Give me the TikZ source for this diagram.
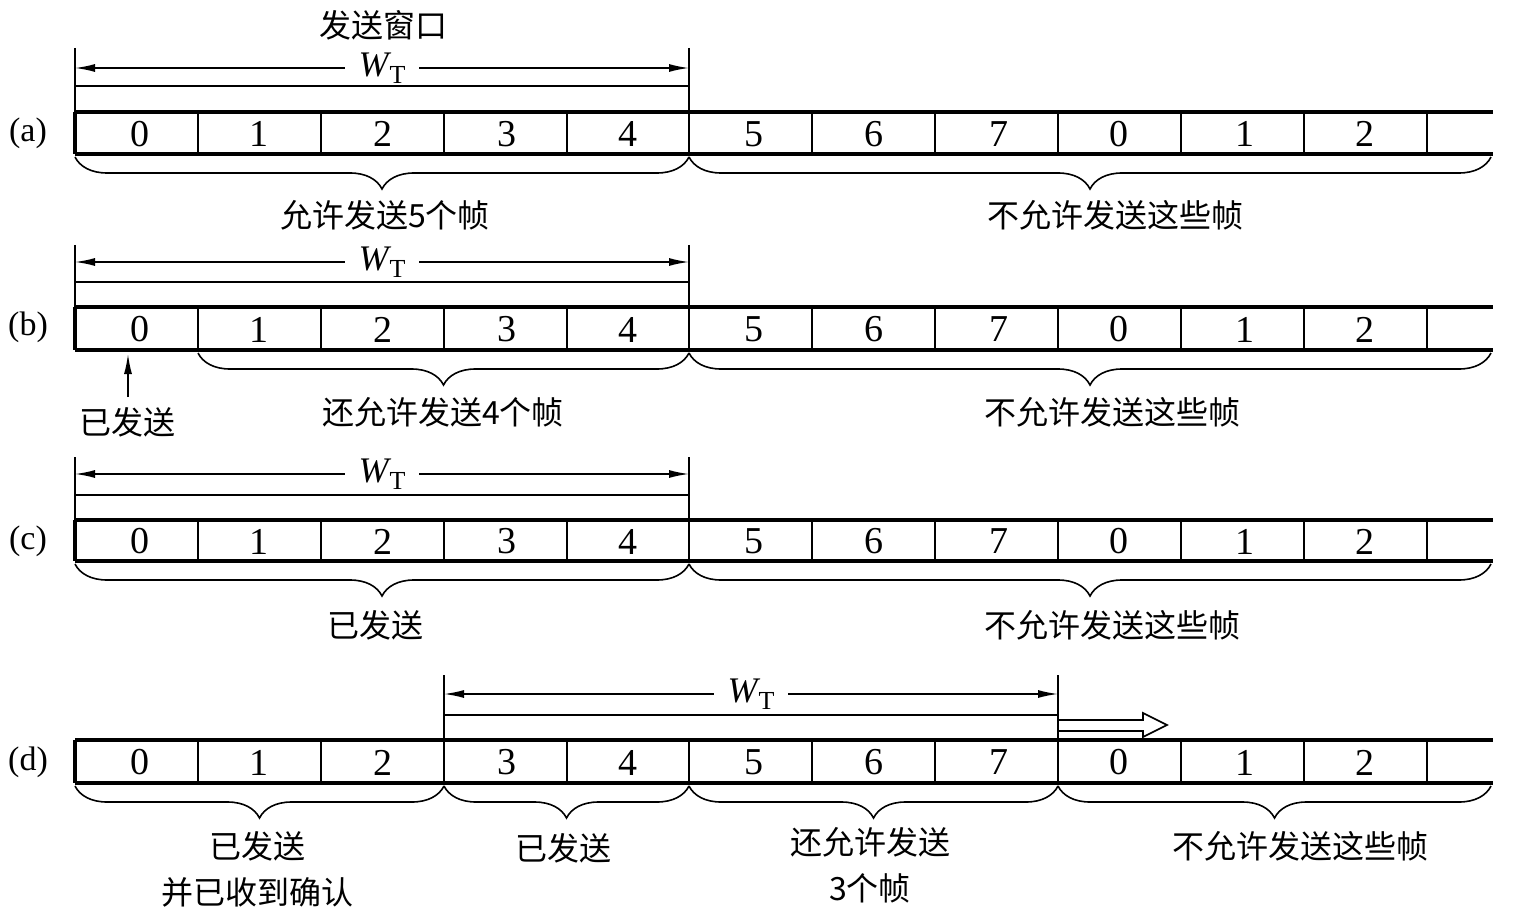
\documentclass[tikz,border=0pt]{standalone}
\usepackage{fontspec}
\setmainfont{Liberation Serif}
\newfontfamily\cjk{Noto Sans CJK SC}
\usetikzlibrary{arrows.meta,decorations.pathreplacing}
\tikzset{
  stripline/.style={line width=1.6pt},
  divider/.style={line width=0.7pt},
  winline/.style={line width=1.1pt},
  thinline/.style={line width=0.8pt},
  num/.style={font=\fontsize{19}{19}\selectfont, inner sep=0pt},
  lbl/.style={font=\cjk\fontsize{16}{20}\selectfont, align=center, inner sep=0pt},
  rowlbl/.style={font=\fontsize{17}{17}\selectfont, inner sep=0pt},
  wtlbl/.style={font=\fontsize{18}{18}\selectfont, fill=white, inner xsep=7pt, inner ysep=1pt},
  dimarrow/.style={line width=0.8pt, {Latex[length=10pt,width=4pt]}-{Latex[length=10pt,width=4pt]}},
  brc/.style={decorate, decoration={brace, mirror, amplitude=16pt}, line width=0.8pt},
  hollow/.style={line width=0.8pt, line join=miter},
}
\newcommand\WTtext{{\itshape W}\kern0.5pt\raisebox{-0.4ex}{\fontsize{13}{13}\selectfont T}}
\begin{document}
\begin{tikzpicture}[x=0.5pt,y=-0.5pt]
\useasboundingbox (0,0) rectangle (1518,919);
% rows: name / top / bottom
\foreach \r/\T/\B in {a/112/154, b/307/350, c/520/561, d/740/783}{
  \draw[stripline] (75,\T) -- (1493,\T);
  \draw[stripline] (75,\B) -- (1493,\B);
  \draw[stripline] (75,\T) -- (75,\B);
  \foreach \x in {198,321,444,567,689,812,935,1058,1181,1304,1427}{
    \draw[divider] (\x,\T) -- (\x,\B);
  }
  \foreach \i/\x/\n in {0/140/0,1/259/1,2/383/2,3/507/3,4/628/4,5/754/5,6/874/6,7/999/7,8/1119/0,9/1245/1,10/1365/2}{
    \node[num] (\r\i) at (\x,{(\T+\B)/2+1}) {\n};
  }
}
\node[rowlbl] (la) at (28,133) {(a)};
\node[rowlbl] (lb) at (28,327) {(b)};
\node[rowlbl] (lc) at (28,541) {(c)};
\node[rowlbl] (ld) at (28,762) {(d)};

% ---- (a)
\node[lbl] (title) at (383,25) {发送窗口};
\draw[winline] (75,48) -- (75,112);
\draw[winline] (689,48) -- (689,154);
\coordinate (awl) at (75,68); \coordinate (awr) at (689,68);
\draw[dimarrow] (awl) -- (awr) node[wtlbl, midway] (awt) {\WTtext};
\draw[thinline] (75,86) -- (689,86);
\coordinate (ab1) at (75,157); \coordinate (ab2) at (689,157); \coordinate (ab3) at (1491,157);
\draw[brc] (ab1) -- (ab2);
\draw[brc] (ab2) -- (ab3);
\node[lbl] (at1) at (385,215) {允许发送5个帧};
\node[lbl] (at2) at (1115,215) {不允许发送这些帧};

% ---- (b)
\draw[winline] (75,245) -- (75,307);
\draw[winline] (689,245) -- (689,350);
\coordinate (bwl) at (75,262); \coordinate (bwr) at (689,262);
\draw[dimarrow] (bwl) -- (bwr) node[wtlbl, midway] (bwt) {\WTtext};
\draw[thinline] (75,282) -- (689,282);
\coordinate (bb1) at (198,353); \coordinate (bb2) at (689,353); \coordinate (bb3) at (1491,353);
\draw[brc] (bb1) -- (bb2);
\draw[brc] (bb2) -- (bb3);
\node[lbl] (bt1) at (443,412) {还允许发送4个帧};
\node[lbl] (bt2) at (1112,412) {不允许发送这些帧};
\node[lbl] (bsent) at (127,422) {已发送};
\coordinate (bstart) at (128,397); \coordinate (bend) at (128,354);
\draw[thinline, -{Latex[length=10pt,width=4pt]}] (bstart) -- (bend);

% ---- (c)
\draw[winline] (75,457) -- (75,520);
\draw[winline] (689,457) -- (689,561);
\coordinate (cwl) at (75,474); \coordinate (cwr) at (689,474);
\draw[dimarrow] (cwl) -- (cwr) node[wtlbl, midway] (cwt) {\WTtext};
\draw[thinline] (75,495) -- (689,495);
\coordinate (cb1) at (75,564); \coordinate (cb2) at (689,564); \coordinate (cb3) at (1491,564);
\draw[brc] (cb1) -- (cb2);
\draw[brc] (cb2) -- (cb3);
\node[lbl] (ct1) at (375,625) {已发送};
\node[lbl] (ct2) at (1112,625) {不允许发送这些帧};

% ---- (d)
\draw[winline] (444,675) -- (444,783);
\draw[winline] (689,740) -- (689,783);
\draw[winline] (1058,675) -- (1058,783);
\coordinate (dwl) at (444,694); \coordinate (dwr) at (1058,694);
\draw[dimarrow] (dwl) -- (dwr) node[wtlbl, midway] (dwt) {\WTtext};
\draw[thinline] (444,715) -- (1058,715);
\draw[hollow] (1058,720) -- (1143,720) -- (1143,713) -- (1167,725) -- (1143,737) -- (1143,731) -- (1058,731);
\coordinate (db1) at (75,786); \coordinate (db2) at (444,786); \coordinate (db3) at (689,786);
\coordinate (db4) at (1058,786); \coordinate (db5) at (1491,786);
\draw[brc] (db1) -- (db2);
\draw[brc] (db2) -- (db3);
\draw[brc] (db3) -- (db4);
\draw[brc] (db4) -- (db5);
\node[lbl] (dt1) at (257,869) {已发送\\[3pt]并已收到确认};
\node[lbl] (dt2) at (563,848) {已发送};
\node[lbl] (dt3) at (870,865) {还允许发送\\[3pt]3个帧};
\node[lbl] (dt4) at (1300,846) {不允许发送这些帧};
\end{tikzpicture}
\end{document}
